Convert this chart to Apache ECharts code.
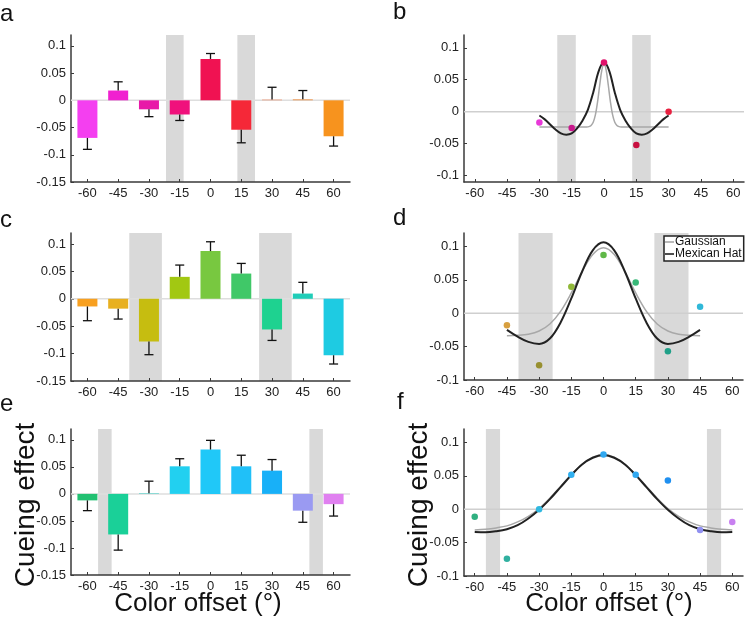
<!DOCTYPE html>
<html><head><meta charset="utf-8">
<script src="https://cdn.jsdelivr.net/npm/echarts@6/dist/echarts.min.js"></script>
<style>html,body{margin:0;padding:0;background:#fff}#c{width:745px;height:622px}</style>
</head><body><div id="c"></div>
<script>
// ---------- data ----------
const offsets = [-60, -45, -30, -15, 0, 15, 30, 45, 60];
const xTickLabels = [-60, -45, -30, -15, 0, 15, 30, 45, 60];
const yTicksBar = [-0.15, -0.1, -0.05, 0, 0.05, 0.1];
const yTicksFit = [-0.1, -0.05, 0, 0.05, 0.1];

// panel a (bars + one-sided SEM end points)
const aValues = [-0.069, 0.018, -0.0165, -0.026, 0.076, -0.054, 0.0015, 0.002, -0.066];
const aErrEnds = [-0.090, 0.034, -0.030, -0.037, 0.086, -0.078, 0.024, 0.018, -0.084];
const aColors = ['#f43ff0', '#f021d0', '#e819a8', '#f0117c', '#f01252', '#f52838', '#eea080', '#eea060', '#f7931e'];
const aBands = [[-21.7, -13.1], [13.1, 21.7]];

// panel c
const cValues = [-0.014, -0.018, -0.078, 0.040, 0.087, 0.046, -0.056, 0.0095, -0.103];
const cErrEnds = [-0.040, -0.037, -0.102, 0.0615, 0.104, 0.0645, -0.076, 0.030, -0.119];
const cColors = ['#f8a020', '#e8b020', '#c6bd10', '#a2c812', '#78c840', '#40c868', '#1ed290', '#20cdb8', '#1ecbe2'];
const cBands = [[-39.6, -23.7], [23.7, 39.6]];

// panel e
const eValues = [-0.012, -0.075, 0.001, 0.051, 0.082, 0.051, 0.043, -0.031, -0.019];
const eErrEnds = [-0.031, -0.104, 0.0235, 0.065, 0.099, 0.0715, 0.0635, -0.0525, -0.041];
const eColors = ['#22c172', '#1ad098', '#40d0c8', '#22d0f0', '#20c8f8', '#20c0f8', '#18b0f8', '#9a9af2', '#e080f0'];
const eBands = [[-54.8, -48.2], [48.2, 54.8]];

// panel b (points + fits)
const bX = [-30, -15, 0, 15, 30];
const bPoints = [-0.017, -0.0255, 0.077, -0.052, 0.0];
const bColors = ['#e838d8', '#c8188c', '#e0106a', '#c81040', '#e82040'];
const bHatX = [-30, -27.5, -25, -22.5, -20, -17.5, -15, -12.5, -10, -7.5, -5, -2.5, 0, 2.5, 5, 7.5, 10, 12.5, 15, 17.5, 20, 22.5, 25, 27.5, 30];
const bHat = [-0.006, -0.012, -0.020, -0.028, -0.034, -0.036, -0.034, -0.026, -0.014, 0.003, 0.030, 0.063, 0.078, 0.063, 0.030, 0.003, -0.014, -0.026, -0.034, -0.036, -0.034, -0.028, -0.020, -0.012, -0.006];
const bGaussX = [-30, -8, -7, -6, -5, -4, -3, -2, -1, 0, 1, 2, 3, 4, 5, 6, 7, 8, 30];
const bGauss = [-0.024, -0.0239, -0.0234, -0.0216, -0.0165, -0.0051, 0.0151, 0.0414, 0.065, 0.075, 0.065, 0.0414, 0.0151, -0.0051, -0.0165, -0.0216, -0.0234, -0.0239, -0.024];
const bBands = [[-21.7, -13.1], [13.1, 21.7]];

// panel d
const dX = [-45, -30, -15, 0, 15, 30, 45];
const dPoints = [-0.018, -0.078, 0.0395, 0.087, 0.046, -0.057, 0.0095];
const dColors = ['#d8a040', '#989030', '#90b838', '#60b848', '#38b878', '#20a088', '#30b8d8'];
const dFitX = [-45, -40, -35, -30, -25, -20, -15, -10, -5, 0, 5, 10, 15, 20, 25, 30, 35, 40, 45];
const dHat = [-0.025, -0.035, -0.043, -0.046, -0.038, -0.014, 0.022, 0.062, 0.094, 0.106, 0.094, 0.062, 0.022, -0.014, -0.038, -0.046, -0.043, -0.035, -0.025];
const dGauss = [-0.0338, -0.0332, -0.0314, -0.0266, -0.0161, 0.0028, 0.0303, 0.0619, 0.0879, 0.098, 0.0879, 0.0619, 0.0303, 0.0028, -0.0161, -0.0266, -0.0314, -0.0332, -0.0338];
const dBands = [[-39.6, -23.7], [23.7, 39.6]];

// panel f
const fX = [-60, -45, -30, -15, 0, 15, 30, 45, 60];
const fPoints = [-0.0115, -0.074, 0.0, 0.0515, 0.082, 0.0515, 0.043, -0.031, -0.019];
const fColors = ['#30b080', '#30b0a0', '#30b8e0', '#30b0f0', '#30a8f0', '#30a8f0', '#2090f0', '#9090f0', '#c880f0'];
const fFitX = [-60, -55, -50, -45, -40, -35, -30, -25, -20, -15, -10, -5, 0, 5, 10, 15, 20, 25, 30, 35, 40, 45, 50, 55, 60];
const fHat = [-0.034, -0.0345, -0.033, -0.030, -0.024, -0.014, -0.001, 0.015, 0.033, 0.051, 0.067, 0.077, 0.081, 0.077, 0.067, 0.051, 0.033, 0.015, -0.001, -0.014, -0.024, -0.030, -0.033, -0.0345, -0.034];
const fGauss = [-0.031, -0.030, -0.028, -0.025, -0.019, -0.0106, 0.001, 0.0165, 0.034, 0.052, 0.067, 0.078, 0.082, 0.078, 0.067, 0.052, 0.034, 0.0165, 0.001, -0.0106, -0.019, -0.025, -0.028, -0.030, -0.031];
const fBands = [[-54.8, -48.2], [48.2, 54.8]];

const legendNames = ['Gaussian', 'Mexican Hat'];

// ---------- chart ----------
const FONT = "'Liberation Sans', Arial, Helvetica, sans-serif";
const chart = echarts.init(document.getElementById('c'), null, {renderer: 'canvas'});

const grids = [
  {left: 71, top: 35, width: 279, height: 147},
  {left: 464, top: 35, width: 280, height: 147},
  {left: 71, top: 233, width: 279, height: 148},
  {left: 464, top: 233, width: 279, height: 147},
  {left: 71, top: 429, width: 279, height: 146},
  {left: 464, top: 429, width: 279, height: 147}
];
const xRanges = [[-68, 68], [-65, 65], [-68, 68], [-65, 65], [-68, 68], [-65, 65]];
const yRanges = [[-0.15, 0.12], [-0.11, 0.12], [-0.15, 0.12], [-0.1, 0.12], [-0.15, 0.12], [-0.1, 0.12]];

const axisLineStyle = {color: '#3a3a3a', width: 1.5};
const xAxes = grids.map((g, i) => ({
  type: 'value', gridIndex: i, min: xRanges[i][0], max: xRanges[i][1],
  axisLine: {onZero: false, lineStyle: axisLineStyle},
  axisTick: {inside: true, length: 3, customValues: xTickLabels, lineStyle: {color: '#3a3a3a', width: 1}},
  axisLabel: {customValues: xTickLabels, fontSize: 13, color: '#222', margin: 5, fontFamily: FONT},
  splitLine: {show: false}
}));
const yAxes = grids.map((g, i) => {
  const ticks = (i % 2 === 0) ? yTicksBar : yTicksFit;
  return {
    type: 'value', gridIndex: i, min: yRanges[i][0], max: yRanges[i][1],
    axisLine: {onZero: false, lineStyle: axisLineStyle},
    axisTick: {inside: true, length: 3, customValues: ticks, lineStyle: {color: '#3a3a3a', width: 1}},
    axisLabel: {customValues: ticks, fontSize: 13, color: '#222', margin: 5, fontFamily: FONT,
      formatter: v => String(+(+v).toFixed(2))},
    splitLine: {show: false}
  };
});

function bandSeries(i, bands) {
  return {
    type: 'custom', xAxisIndex: i, yAxisIndex: i, z: 0, silent: true,
    data: bands, encode: {x: [0, 1]},
    renderItem: (params, api) => {
      const x0 = api.coord([api.value(0), 0])[0];
      const x1 = api.coord([api.value(1), 0])[0];
      const cs = params.coordSys;
      return {type: 'rect', shape: {x: x0, y: cs.y, width: x1 - x0, height: cs.height}, style: {fill: '#d9d9d9'}};
    }
  };
}
function zeroSeries(i, color) {
  return {
    type: 'custom', xAxisIndex: i, yAxisIndex: i, z: 1, silent: true,
    data: [[0, 0]], encode: {x: 0, y: 1},
    renderItem: (params, api) => {
      const y = api.coord([0, 0])[1];
      const cs = params.coordSys;
      return {type: 'line', shape: {x1: cs.x, y1: y, x2: cs.x + cs.width, y2: y}, style: {stroke: color, lineWidth: 1.5}};
    }
  };
}
function barSeries(i, vals, colors) {
  return {
    type: 'bar', xAxisIndex: i, yAxisIndex: i, z: 2, barWidth: 20, silent: true,
    data: offsets.map((x, k) => ({value: [x, vals[k]], itemStyle: {color: colors[k]}}))
  };
}
function errSeries(i, vals, ends) {
  return {
    type: 'custom', xAxisIndex: i, yAxisIndex: i, z: 3, silent: true,
    data: offsets.map((x, k) => [x, vals[k], ends[k]]), encode: {x: 0, y: [1, 2]},
    renderItem: (params, api) => {
      const p0 = api.coord([api.value(0), api.value(1)]);
      const p1 = api.coord([api.value(0), api.value(2)]);
      const hw = 4.5;
      const st = {stroke: '#111', lineWidth: 1.3};
      return {type: 'group', children: [
        {type: 'line', shape: {x1: p0[0], y1: p0[1], x2: p1[0], y2: p1[1]}, style: st},
        {type: 'line', shape: {x1: p1[0] - hw, y1: p1[1], x2: p1[0] + hw, y2: p1[1]}, style: st}
      ]};
    }
  };
}
function curve(i, name, xs, ys, color, width, z) {
  return {
    type: 'line', name: name, xAxisIndex: i, yAxisIndex: i, z: z, silent: true,
    data: xs.map((x, k) => [x, ys[k]]), symbol: 'none', showSymbol: false, smooth: 0.35,
    lineStyle: {color: color, width: width}, itemStyle: {color: color}
  };
}
function pointSeries(i, xs, ys, colors) {
  return {
    type: 'scatter', xAxisIndex: i, yAxisIndex: i, z: 5, symbolSize: 6.5, silent: true,
    data: xs.map((x, k) => ({value: [x, ys[k]], itemStyle: {color: colors[k], opacity: 1}}))
  };
}

const GRAY = '#a8a8a8', BLACK = '#222';
const series = [
  bandSeries(0, aBands), zeroSeries(0, '#dedede'), barSeries(0, aValues, aColors), errSeries(0, aValues, aErrEnds),
  bandSeries(1, bBands), zeroSeries(1, '#cfcfcf'),
  curve(1, legendNames[0], bGaussX, bGauss, GRAY, 1.5, 3), curve(1, legendNames[1], bHatX, bHat, BLACK, 2, 4),
  pointSeries(1, bX, bPoints, bColors),
  bandSeries(2, cBands), zeroSeries(2, '#dedede'), barSeries(2, cValues, cColors), errSeries(2, cValues, cErrEnds),
  bandSeries(3, dBands), zeroSeries(3, '#cfcfcf'),
  curve(3, legendNames[0], dFitX, dGauss, GRAY, 1.5, 3), curve(3, legendNames[1], dFitX, dHat, BLACK, 2, 4),
  pointSeries(3, dX, dPoints, dColors),
  bandSeries(4, eBands), zeroSeries(4, '#dedede'), barSeries(4, eValues, eColors), errSeries(4, eValues, eErrEnds),
  bandSeries(5, fBands), zeroSeries(5, '#cfcfcf'),
  curve(5, legendNames[0], fFitX, fGauss, GRAY, 1.5, 3), curve(5, legendNames[1], fFitX, fHat, BLACK, 2, 4),
  pointSeries(5, fX, fPoints, fColors)
];

function label(t, x, y) {
  return {type: 'text', x: x, y: y, silent: true,
    style: {text: t, font: '24px ' + FONT, fill: '#111', textAlign: 'left', textVerticalAlign: 'middle'}};
}
const bigFont = '26px ' + FONT;
const graphics = [
  label('a', 0, 14), label('b', 393, 12), label('c', 0, 220), label('d', 393, 218), label('e', 0, 404), label('f', 397, 402),
  {type: 'text', x: 26, y: 505, rotation: Math.PI / 2, silent: true,
    style: {text: 'Cueing effect', font: '28px ' + FONT, fill: '#111', textAlign: 'center', textVerticalAlign: 'middle'}},
  {type: 'text', x: 419, y: 505, rotation: Math.PI / 2, silent: true,
    style: {text: 'Cueing effect', font: '28px ' + FONT, fill: '#111', textAlign: 'center', textVerticalAlign: 'middle'}},
  {type: 'text', x: 198, y: 604, silent: true,
    style: {text: 'Color offset (°)', font: bigFont, fill: '#111', textAlign: 'center', textVerticalAlign: 'middle'}},
  {type: 'text', x: 609, y: 604, silent: true,
    style: {text: 'Color offset (°)', font: bigFont, fill: '#111', textAlign: 'center', textVerticalAlign: 'middle'}}
];

chart.setOption({
  animation: false,
  backgroundColor: '#fff',
  grid: grids,
  xAxis: xAxes,
  yAxis: yAxes,
  legend: {
    data: [
      {name: legendNames[0], icon: 'rect', itemStyle: {color: GRAY}},
      {name: legendNames[1], icon: 'rect', itemStyle: {color: BLACK}}
    ],
    orient: 'vertical', left: 664, top: 236,
    itemWidth: 9, itemHeight: 1.6, itemGap: 0, padding: [0, 2, 1, 1],
    borderColor: '#222', borderWidth: 1.5, backgroundColor: '#fff', selectedMode: false,
    textStyle: {fontSize: 12, lineHeight: 12, color: '#111', fontFamily: FONT, padding: [0, 0, 0, -4]}
  },
  series: series,
  graphic: graphics
});
</script></body></html>
